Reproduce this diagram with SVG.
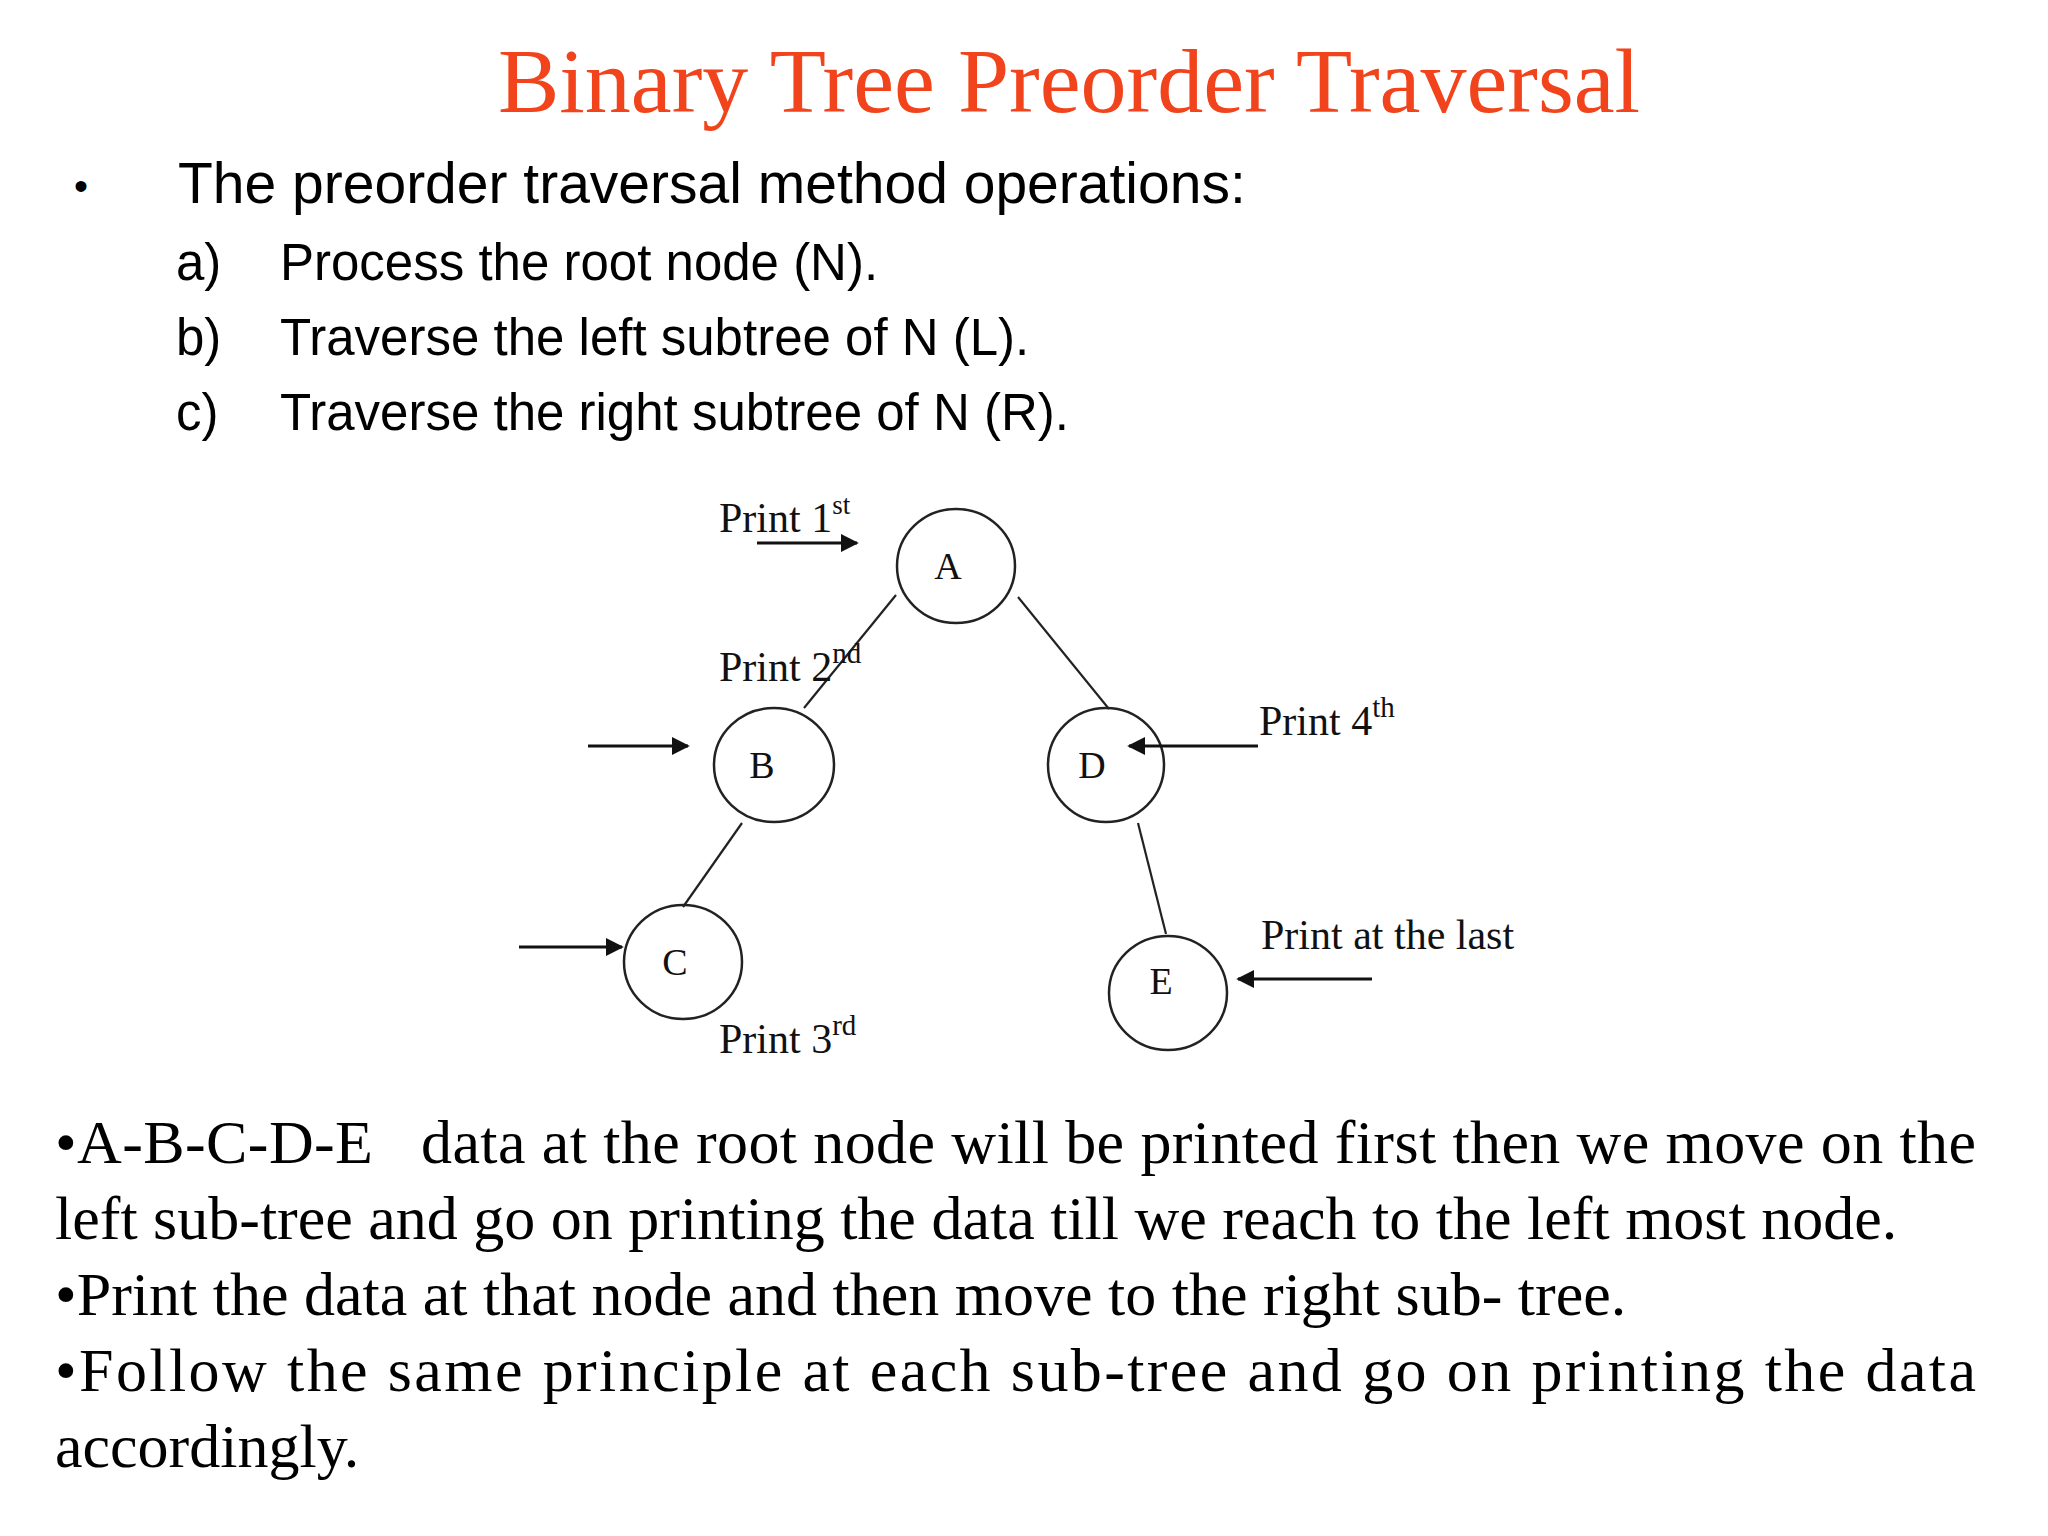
<svg xmlns="http://www.w3.org/2000/svg" width="2048" height="1536" viewBox="0 0 2048 1536">
<style>
.serif{font-family:"Liberation Serif","Times New Roman",serif;fill:#000}
.sans{font-family:"Liberation Sans",Arial,sans-serif;fill:#000}
.lbl{font-family:"Liberation Serif","Times New Roman",serif;font-size:42px;fill:#111}
.node text{font-family:"Liberation Serif","Times New Roman",serif;font-size:38px;text-anchor:middle;fill:#111}
.edge{stroke:#222;stroke-width:2.2;fill:none}
.arr{stroke:#111;stroke-width:3;fill:none;marker-end:url(#ah)}
</style>
<defs>
<marker id="ah" viewBox="0 0 10 10" refX="9" refY="5" markerWidth="6" markerHeight="6" orient="auto"><path d="M0,0 L10,5 L0,10 z" fill="#111"/></marker>
</defs>
<rect width="2048" height="1536" fill="#fff"/>
<text class="serif" x="1069" y="112" font-size="92" text-anchor="middle" style="fill:#f2441c">Binary Tree Preorder Traversal</text>
<text class="sans" x="74" y="200" font-size="40">•</text>
<text class="sans" x="178" y="203" font-size="57">The preorder traversal method operations:</text>
<text class="sans" x="176" y="280" font-size="51">a)</text>
<text class="sans" x="280" y="280" font-size="51">Process the root node (N).</text>
<text class="sans" x="176" y="355" font-size="51">b)</text>
<text class="sans" x="280" y="355" font-size="51">Traverse the left subtree of N (L).</text>
<text class="sans" x="176" y="430" font-size="51">c)</text>
<text class="sans" x="280" y="430" font-size="51">Traverse the right subtree of N (R).</text>
<g transform="translate(-9,-6)">
<g id="A" class="node"><ellipse cx="965" cy="572" rx="59" ry="57" fill="#fff" stroke="#222" stroke-width="2.5"/><text x="957" y="585">A</text></g>
<g id="B" class="node"><ellipse cx="783" cy="771" rx="60" ry="57" fill="#fff" stroke="#222" stroke-width="2.5"/><text x="771" y="784">B</text></g>
<g id="D" class="node"><ellipse cx="1115" cy="771" rx="58" ry="57" fill="#fff" stroke="#222" stroke-width="2.5"/><text x="1101" y="784">D</text></g>
<g id="C" class="node"><ellipse cx="692" cy="968" rx="59" ry="57" fill="#fff" stroke="#222" stroke-width="2.5"/><text x="684" y="981">C</text></g>
<g id="E" class="node"><ellipse cx="1177" cy="999" rx="59" ry="57" fill="#fff" stroke="#222" stroke-width="2.5"/><text x="1170" y="1000">E</text></g>
<g id="connectors">
<line class="edge" x1="905" y1="601" x2="813" y2="714"/>
<line class="edge" x1="1027" y1="603" x2="1118" y2="715"/>
<line class="edge" x1="751" y1="829" x2="692" y2="913"/>
<line class="edge" x1="1147" y1="829" x2="1175" y2="940"/>
<line class="arr" x1="766" y1="549" x2="866" y2="549"/>
<line class="arr" x1="597" y1="752" x2="697" y2="752"/>
<line class="arr" x1="528" y1="953" x2="631" y2="953"/>
<line class="arr" x1="1267" y1="752" x2="1138" y2="752"/>
<line class="arr" x1="1381" y1="985" x2="1247" y2="985"/>
</g>
<text class="lbl" x="728" y="538">Print 1<tspan font-size="27" dy="-18">st</tspan></text>
<text class="lbl" x="728" y="687">Print 2<tspan font-size="29" dy="-18">nd</tspan></text>
<text class="lbl" x="1268" y="741">Print 4<tspan font-size="29" dy="-18">th</tspan></text>
<text class="lbl" x="1270" y="955">Print at the last</text>
<text class="lbl" x="728" y="1059">Print 3<tspan font-size="29" dy="-18">rd</tspan></text>
</g>
<text class="serif" x="55" y="1163" font-size="62" textLength="1921" lengthAdjust="spacing" xml:space="preserve">•A-B-C-D-E   data at the root node will be printed first then we move on the</text>
<text class="serif" x="55" y="1239" font-size="62">left sub-tree and go on printing the data till we reach to the left most node.</text>
<text class="serif" x="55" y="1315" font-size="62">•Print the data at that node and then move to the right sub- tree.</text>
<text class="serif" x="55" y="1391" font-size="62" textLength="1921" lengthAdjust="spacing">•Follow the same principle at each sub-tree and go on printing the data</text>
<text class="serif" x="55" y="1467" font-size="62">accordingly.</text>
</svg>
